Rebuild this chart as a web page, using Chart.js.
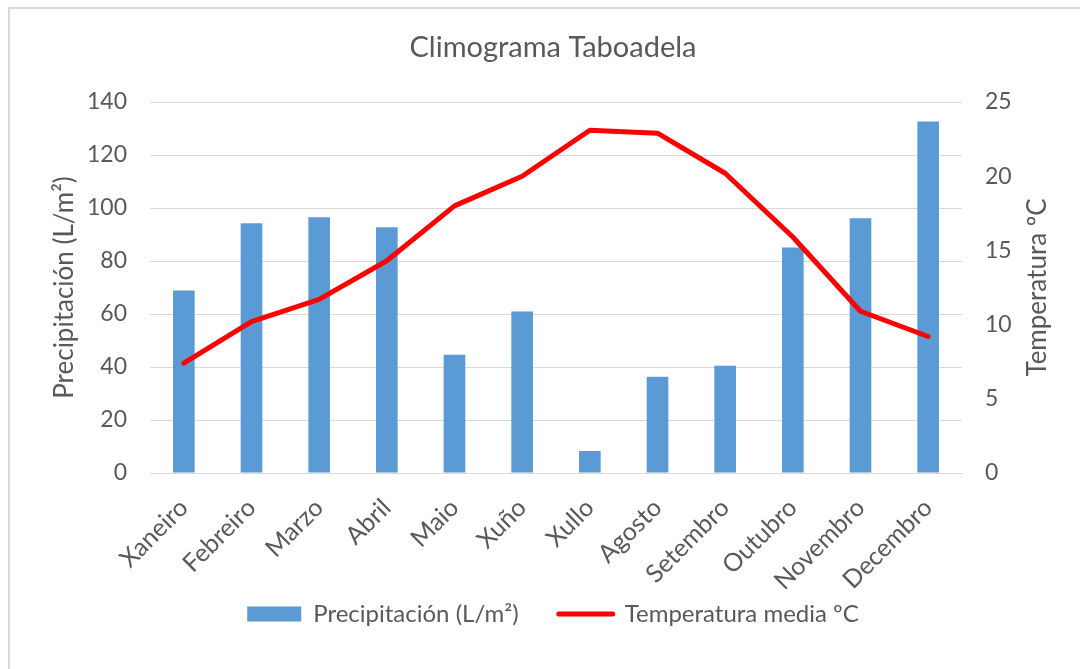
<!DOCTYPE html>
<html>
<head>
<meta charset="utf-8">
<script src="https://cdn.jsdelivr.net/npm/chart.js@4.4.1/dist/chart.umd.min.js"></script>
<style>
  html, body { margin: 0; padding: 0; background: #ffffff; }
  #wrap { position: relative; width: 1080px; height: 669px; overflow: hidden; }
  #frame { position: absolute; left: 8px; top: 7px; width: 1200px; height: 800px;
           border-top: 2px solid #D9D9D9; border-left: 2px solid #D9D9D9; }
  #c { position: absolute; left: 0; top: 0; }
</style>
</head>
<body>
<div id="wrap">
  <div id="frame"></div>
  <canvas id="c" width="1080" height="669"></canvas>
</div>
<script>
const months = ["Xaneiro","Febreiro","Marzo","Abril","Maio","Xuño","Xullo","Agosto","Setembro","Outubro","Novembro","Decembro"];
const precipitation = [68.9, 94.2, 96.5, 92.7, 44.6, 60.9, 8.3, 36.3, 40.5, 85.1, 96.1, 132.6];
const temperature = [7.4, 10.2, 11.7, 14.3, 18.0, 20.0, 23.1, 22.9, 20.2, 15.9, 10.9, 9.2];
const precipTicks = [0, 20, 40, 60, 80, 100, 120, 140];
const tempTicks = [0, 5, 10, 15, 20, 25];
const rightTitle = "Temperatura ºC";

const FONT = "Lato";
const TXT = "#595959";
const GRID = "#D9D9D9";

const rightTitlePlugin = {
  id: "rightTitle",
  afterLayout(chart) {
    const L = chart.legend;
    if (L) { L.top -= 27; L.bottom -= 27; }
  },
  afterDraw(chart) {
    const ctx = chart.ctx;
    const area = chart.chartArea;
    ctx.save();
    ctx.translate(1038, (area.top + area.bottom) / 2);
    ctx.rotate(-Math.PI / 2);
    ctx.fillStyle = TXT;
    ctx.font = "26px " + FONT;
    ctx.textAlign = "center";
    ctx.textBaseline = "middle";
    ctx.fillText(rightTitle, 0, 0);
    ctx.restore();
  }
};

new Chart(document.getElementById("c"), {
  data: {
    labels: months,
    datasets: [
      {
        type: "bar",
        label: "Precipitación (L/m²)",
        data: precipitation,
        backgroundColor: "#5B9BD5",
        borderWidth: 0,
        categoryPercentage: 1.0,
        barPercentage: 0.32,
        yAxisID: "y",
        order: 1
      },
      {
        type: "line",
        label: "Temperatura media ºC",
        data: temperature,
        borderColor: "#FF0000",
        backgroundColor: "#FF0000",
        borderWidth: 5,
        pointRadius: 0,
        tension: 0,
        borderJoinStyle: "round",
        borderCapStyle: "round",
        yAxisID: "y1",
        order: 0
      }
    ]
  },
  plugins: [rightTitlePlugin],
  options: {
    responsive: false,
    animation: false,
    layout: { padding: { left: 36, right: 10, top: 0, bottom: 6 } },
    plugins: {
      tooltip: { enabled: false },
      title: {
        display: true,
        text: "Climograma Taboadela",
        color: TXT,
        font: { family: FONT, size: 29, weight: "normal" },
        padding: { top: 30, bottom: 37.2 }
      },
      legend: {
        position: "bottom",
        labels: {
          color: TXT,
          font: { family: FONT, size: 24 },
          padding: 40,
          usePointStyle: true,
          pointStyleWidth: 54,
          boxHeight: 15,
          generateLabels: (chart) => chart.data.datasets.map((ds, i) => ({
            text: ds.label,
            fillStyle: ds.type === "bar" ? ds.backgroundColor : ds.borderColor,
            strokeStyle: ds.type === "bar" ? ds.backgroundColor : ds.borderColor,
            lineWidth: ds.type === "bar" ? 0 : 5,
            lineCap: "round",
            pointStyle: ds.type === "bar" ? "rect" : "line",
            fontColor: TXT,
            hidden: false,
            datasetIndex: i
          }))
        }
      }
    },
    scales: {
      x: {
        grid: { display: false, drawTicks: false },
        border: { display: true, color: GRID, width: 1 },
        ticks: {
          color: TXT,
          font: { family: FONT, size: 25 },
          maxRotation: 45,
          minRotation: 45,
          padding: 20,
          autoSkip: false
        },
        afterFit: (s) => { s.height = 116; }
      },
      y: {
        position: "left",
        min: 0,
        max: 140,
        afterBuildTicks: (s) => { s.ticks = precipTicks.map(v => ({ value: v })); },
        grid: { color: GRID, lineWidth: 1, drawTicks: false },
        border: { display: false },
        ticks: { color: TXT, font: { family: FONT, size: 23 }, padding: 23 },
        title: {
          display: true,
          text: "Precipitación (L/m²)",
          color: TXT,
          font: { family: FONT, size: 26 },
          padding: { top: 13, bottom: 0 }
        },
        afterFit: (s) => { s.width = 114; }
      },
      y1: {
        position: "right",
        min: 0,
        max: 25,
        afterBuildTicks: (s) => { s.ticks = tempTicks.map(v => ({ value: v })); },
        grid: { drawOnChartArea: false, drawTicks: false },
        border: { display: false },
        ticks: { color: TXT, font: { family: FONT, size: 23 }, padding: 23 },
        title: { display: false },
        afterFit: (s) => { s.width = 108; }
      }
    }
  }
});
</script>
</body>
</html>
